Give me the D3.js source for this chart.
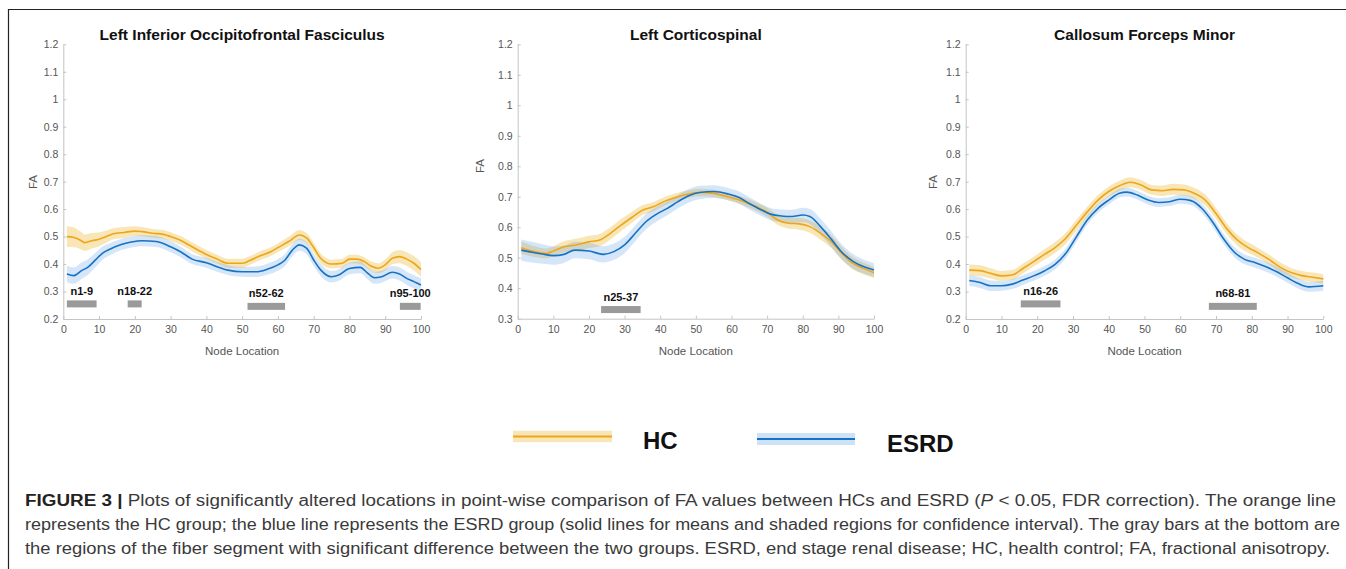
<!DOCTYPE html>
<html lang="en">
<head>
<meta charset="UTF-8" />
<title>FA along tracts: HC vs ESRD</title>
<style>
  body { margin: 0; background: #fff; }
  svg { display: block; font-family: "Liberation Sans", Arial, sans-serif; }
  .tick-label { font-size: 10.5px; fill: #555; }
  .axis-label { font-size: 11.5px; fill: #555; }
  .panel-title { font-size: 15.5px; font-weight: bold; fill: #111; }
  .sig-label { font-size: 11px; font-weight: bold; fill: #111; }
  .caption { font-size: 16px; fill: #3a3a3a; }
</style>
</head>
<body>
<svg id="fig"></svg>
<script src="https://d3js.org/d3.v7.min.js"></script>
<script>
// ---------- data ----------
const titles = ["Left Inferior Occipitofrontal Fasciculus", "Left Corticospinal", "Callosum Forceps Minor"];
const yDomains = [[0.2, 1.2], [0.3, 1.2], [0.2, 1.2]];
const xTicks = [0, 10, 20, 30, 40, 50, 60, 70, 80, 90, 100];
const groups = ["HC", "ESRD"];

// [node, mean FA, half width of confidence band]
const ilfHC = [[1,0.50,0.038],[3,0.497,0.036],[5,0.485,0.032],[6,0.478,0.03],[8,0.485,0.028],[10,0.49,0.025],
  [12,0.50,0.022],[14,0.51,0.02],[17,0.515,0.02],[20,0.52,0.018],[22,0.518,0.017],[25,0.512,0.016],[28,0.508,0.016],
  [30,0.50,0.016],[33,0.485,0.016],[36,0.463,0.016],[40,0.435,0.016],[43,0.418,0.016],[46,0.403,0.016],[50,0.403,0.016],
  [52,0.412,0.016],[55,0.43,0.016],[58,0.445,0.016],[60,0.46,0.016],[63,0.482,0.017],[66,0.506,0.018],[68,0.495,0.018],
  [70,0.46,0.018],[72,0.42,0.018],[75,0.40,0.016],[78,0.403,0.016],[80,0.418,0.016],[82,0.418,0.016],[84,0.41,0.016],
  [86,0.393,0.017],[88,0.385,0.018],[90,0.397,0.02],[92,0.421,0.022],[94,0.427,0.024],[96,0.418,0.025],[98,0.403,0.026],[100,0.38,0.027]];
const ilfESRD = [[1,0.364,0.03],[3,0.358,0.03],[5,0.375,0.03],[7,0.39,0.028],[9,0.415,0.026],[11,0.44,0.024],
  [13,0.454,0.022],[16,0.47,0.02],[19,0.48,0.02],[22,0.485,0.02],[26,0.482,0.02],[30,0.463,0.02],[33,0.443,0.019],
  [36,0.418,0.018],[40,0.405,0.018],[43,0.39,0.018],[46,0.378,0.018],[50,0.372,0.018],[54,0.372,0.019],[57,0.381,0.02],
  [60,0.397,0.021],[62,0.415,0.022],[64,0.45,0.022],[66,0.47,0.022],[68,0.458,0.022],[70,0.415,0.022],[72,0.378,0.022],
  [75,0.354,0.021],[77,0.36,0.021],[80,0.384,0.021],[83,0.388,0.021],[85,0.368,0.022],[87,0.35,0.022],[89,0.354,0.022],
  [92,0.37,0.023],[94,0.364,0.024],[96,0.348,0.024],[98,0.336,0.024],[100,0.324,0.024]];

const cstHC = [[1,0.533,0.02],[4,0.522,0.018],[8,0.514,0.016],[10,0.522,0.016],[13,0.536,0.018],[16,0.541,0.02],
  [20,0.552,0.02],[23,0.558,0.02],[26,0.58,0.02],[29,0.607,0.02],[32,0.632,0.018],[35,0.656,0.016],[38,0.667,0.015],
  [41,0.684,0.014],[45,0.70,0.013],[48,0.709,0.012],[51,0.714,0.012],[55,0.711,0.012],[59,0.70,0.012],[63,0.686,0.013],
  [67,0.667,0.014],[70,0.649,0.015],[73,0.624,0.017],[76,0.613,0.018],[79,0.611,0.019],[82,0.602,0.02],[85,0.58,0.021],
  [88,0.553,0.021],[91,0.514,0.021],[94,0.482,0.02],[97,0.465,0.019],[100,0.451,0.018]];
const cstESRD = [[1,0.525,0.035],[4,0.518,0.034],[7,0.512,0.032],[10,0.507,0.03],[13,0.511,0.028],[16,0.525,0.027],
  [20,0.522,0.027],[24,0.511,0.027],[27,0.52,0.027],[30,0.542,0.027],[33,0.58,0.026],[36,0.618,0.025],[39,0.643,0.024],
  [42,0.662,0.023],[45,0.684,0.022],[48,0.703,0.022],[51,0.714,0.022],[55,0.717,0.021],[59,0.709,0.02],[62,0.698,0.02],
  [65,0.678,0.02],[68,0.659,0.02],[71,0.643,0.02],[74,0.637,0.021],[77,0.635,0.022],[80,0.64,0.024],[82,0.635,0.025],
  [85,0.602,0.026],[88,0.561,0.026],[91,0.518,0.025],[94,0.489,0.024],[97,0.471,0.023],[100,0.46,0.022]];

const fminHC = [[1,0.378,0.02],[4,0.376,0.02],[7,0.366,0.019],[10,0.357,0.018],[13,0.36,0.018],[16,0.384,0.018],
  [19,0.409,0.018],[22,0.435,0.019],[25,0.46,0.02],[28,0.494,0.02],[31,0.542,0.02],[34,0.59,0.019],[37,0.633,0.018],
  [40,0.664,0.018],[43,0.685,0.018],[46,0.698,0.018],[49,0.688,0.018],[52,0.67,0.018],[55,0.667,0.019],[58,0.672,0.02],
  [61,0.67,0.02],[64,0.657,0.02],[67,0.633,0.02],[70,0.584,0.02],[73,0.529,0.02],[76,0.487,0.02],[79,0.46,0.019],
  [82,0.439,0.018],[85,0.415,0.018],[88,0.388,0.018],[91,0.369,0.017],[94,0.358,0.017],[97,0.352,0.017],[100,0.346,0.017]];
const fminESRD = [[1,0.34,0.02],[4,0.333,0.02],[7,0.321,0.019],[10,0.321,0.018],[13,0.327,0.018],[16,0.342,0.018],
  [19,0.357,0.018],[22,0.375,0.018],[25,0.399,0.018],[28,0.439,0.018],[31,0.50,0.018],[34,0.56,0.017],[37,0.603,0.016],
  [40,0.633,0.016],[43,0.658,0.016],[45,0.662,0.016],[48,0.651,0.016],[51,0.633,0.016],[54,0.624,0.016],[57,0.627,0.016],
  [60,0.636,0.016],[63,0.631,0.016],[66,0.603,0.017],[69,0.554,0.018],[72,0.494,0.018],[75,0.445,0.018],[78,0.417,0.018],
  [81,0.405,0.018],[84,0.39,0.018],[87,0.372,0.018],[90,0.35,0.018],[93,0.329,0.018],[96,0.317,0.018],[100,0.321,0.018]];

// significant segments: label, bar start/end (node), bar level (FA)
const ilfSig = [["n1-9", 1, 9.3, 0.255], ["n18-22", 18, 21.9, 0.255], ["n52-62", 51.5, 62, 0.246], ["n95-100", 94.1, 99.9, 0.246]];
const cstSig = [["n25-37", 23.4, 34.5, 0.330]];
const fminSig = [["n16-26", 15.4, 26.5, 0.255], ["n68-81", 68, 81.4, 0.246]];

const captionLines = [
  "Plots of significantly altered locations in point-wise comparison of FA values between HCs and ESRD (",
  "represents the HC group; the blue line represents the ESRD group (solid lines for means and shaded regions for confidence interval). The gray bars at the bottom are",
  "the regions of the fiber segment with significant difference between the two groups. ESRD, end stage renal disease; HC, health control; FA, fractional anisotropy."
];

// ---------- layout ----------
const W = 1346, H = 569;
const svg = d3.select("#fig").attr("width", W).attr("height", H);
svg.append("rect").attr("width", W).attr("height", H).attr("fill", "#fff");

// frame (left + top edges)
svg.append("path").attr("d", `M8.5,${H} V9.5 H${W}`)
  .attr("fill", "none").attr("stroke", "#222").attr("stroke-width", 1.2);

const boxes = [
  { left: 63.3, right: 421, top: 44.3, bottom: 319, faY: 182, faX: 33 },
  { left: 517.7, right: 874, top: 44.3, bottom: 318.7, faY: 166, faX: 480 },
  { left: 965.7, right: 1323.3, top: 44.3, bottom: 319, faY: 182, faX: 933 }
];

const colors = {
  HC: { line: "#EDA61B", band: "#EDB120" },
  ESRD: { line: "#1672C4", band: "#5C9EE6" }
};

const panelData = [
  { hc: ilfHC, esrd: ilfESRD, sig: ilfSig },
  { hc: cstHC, esrd: cstESRD, sig: cstSig },
  { hc: fminHC, esrd: fminESRD, sig: fminSig }
];

const fmt = d => String(+d.toFixed(1));

panelData.forEach((p, i) => {
  const b = boxes[i];
  const x = d3.scaleLinear().domain([0, 100]).range([b.left, b.right]);
  const y = d3.scaleLinear().domain(yDomains[i]).range([b.bottom, b.top]);
  const g = svg.append("g");

  const yTicks = d3.range(Math.round(yDomains[i][0] * 10), Math.round(yDomains[i][1] * 10) + 1).map(v => v / 10);

  // axes (MATLAB style: ticks inward, box off)
  const yAxis = g.append("g").attr("transform", `translate(${b.left},0)`)
    .call(d3.axisLeft(y).tickValues(yTicks).tickFormat(fmt).tickSizeInner(-3).tickSizeOuter(0).tickPadding(5));
  const xAxis = g.append("g").attr("transform", `translate(0,${b.bottom})`)
    .call(d3.axisBottom(x).tickValues(xTicks).tickSizeInner(-3).tickSizeOuter(0).tickPadding(7));
  [xAxis, yAxis].forEach(a => {
    a.select(".domain").attr("stroke", "#c4c4c4");
    a.selectAll(".tick line").attr("stroke", "#c4c4c4");
    a.selectAll(".tick text").attr("class", "tick-label").attr("font-family", null).attr("font-size", null);
  });

  // bands
  const area = d3.area().x(d => x(d[0])).y0(d => y(d[1] - d[2])).y1(d => y(d[1] + d[2])).curve(d3.curveMonotoneX);
  const line = d3.line().x(d => x(d[0])).y(d => y(d[1])).curve(d3.curveMonotoneX);
  g.append("path").attr("d", area(p.hc)).attr("fill", colors.HC.band).attr("opacity", 0.32);
  g.append("path").attr("d", area(p.esrd)).attr("fill", colors.ESRD.band).attr("opacity", 0.26);
  g.append("path").attr("d", line(p.hc)).attr("fill", "none").attr("stroke", colors.HC.line).attr("stroke-width", 1.6);
  g.append("path").attr("d", line(p.esrd)).attr("fill", "none").attr("stroke", colors.ESRD.line).attr("stroke-width", 1.6);

  // significance bars
  p.sig.forEach(([label, s, e, lvl]) => {
    const yc = y(lvl);
    g.append("rect").attr("x", x(s)).attr("width", x(e) - x(s))
      .attr("y", yc - 3.5).attr("height", 7).attr("fill", "#9a9a9a");
    g.append("text").attr("class", "sig-label").attr("x", (x(s) + x(e)) / 2).attr("y", yc - 9)
      .attr("text-anchor", "middle").text(label);
  });

  // labels
  g.append("text").attr("class", "panel-title").attr("x", (b.left + b.right) / 2).attr("y", 40)
    .attr("text-anchor", "middle").text(titles[i]);
  g.append("text").attr("class", "axis-label").attr("x", (b.left + b.right) / 2).attr("y", 355)
    .attr("text-anchor", "middle").text("Node Location");
  g.append("text").attr("class", "axis-label")
    .attr("transform", `translate(${b.faX + 4},${b.faY}) rotate(-90)`)
    .attr("text-anchor", "middle").text("FA");
});

// ---------- legend ----------
const legendItems = [
  { key: groups[0], x0: 513, x1: 612, y: 436.5, band: 11.5, tx: 643, ty: 449 },
  { key: groups[1], x0: 757, x1: 855, y: 439, band: 12, tx: 887, ty: 452 }
];
legendItems.forEach(it => {
  svg.append("rect").attr("x", it.x0).attr("width", it.x1 - it.x0)
    .attr("y", it.y - it.band / 2).attr("height", it.band)
    .attr("fill", colors[it.key].band).attr("opacity", it.key === "HC" ? 0.32 : 0.3);
  svg.append("line").attr("x1", it.x0).attr("x2", it.x1).attr("y1", it.y).attr("y2", it.y)
    .attr("stroke", colors[it.key].line).attr("stroke-width", 2);
  svg.append("text").attr("x", it.tx).attr("y", it.ty)
    .attr("font-size", 24).attr("font-weight", "bold").attr("fill", "#111").text(it.key);
});

// ---------- caption ----------
const cap = svg.append("g").attr("class", "caption");
const l1 = cap.append("text").attr("x", 25).attr("y", 506)
  .attr("textLength", 1311).attr("lengthAdjust", "spacingAndGlyphs");
l1.append("tspan").attr("font-weight", "bold").attr("fill", "#222").text("FIGURE 3 | ");
l1.append("tspan").text(captionLines[0]);
l1.append("tspan").attr("font-style", "italic").text("P");
l1.append("tspan").text(" <  0.05, FDR correction). The orange line");
cap.append("text").attr("x", 25).attr("y", 530)
  .attr("textLength", 1315).attr("lengthAdjust", "spacingAndGlyphs").text(captionLines[1]);
cap.append("text").attr("x", 25).attr("y", 554)
  .attr("textLength", 1305).attr("lengthAdjust", "spacingAndGlyphs").text(captionLines[2]);
</script>
</body>
</html>
